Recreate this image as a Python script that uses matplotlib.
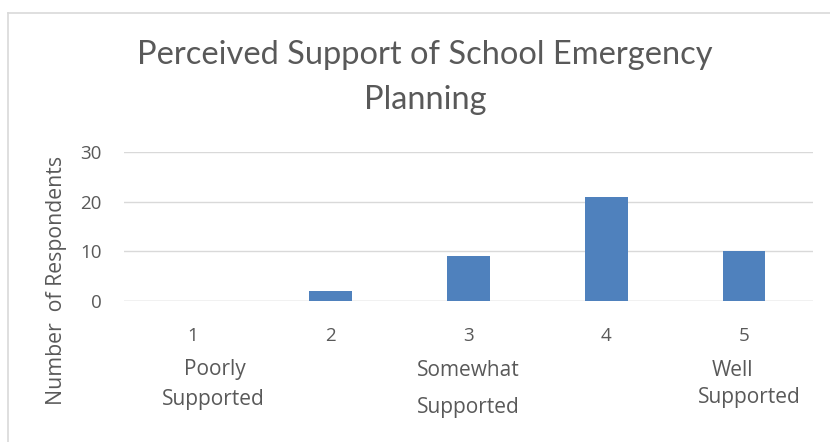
import matplotlib.pyplot as plt
from matplotlib.lines import Line2D

# Survey responses: how well supported staff feel by school emergency planning
ratings = ["1", "2", "3", "4", "5"]
respondents = [0, 2, 9, 21, 10]
scale_notes = {0: ("Poorly", "Supported"), 2: ("Somewhat", "Supported"), 4: ("Well", "Supported")}
y_ticks = [0, 10, 20, 30]

TEXT = "#595959"
BAR = "#4F81BD"
GRID = "#D9D9D9"

plt.rcParams["font.family"] = ["Open Sans", "DejaVu Sans"]

fig = plt.figure(figsize=(8.3, 4.42), dpi=100)
W, H = 830, 442

# chart frame (only the top and left edges fall inside the image)
fig.add_artist(Line2D([8 / W, 1], [1 - 12.5 / H] * 2, color=GRID, lw=1.2, transform=fig.transFigure))
fig.add_artist(Line2D([8 / W] * 2, [0, 1 - 12.5 / H], color=GRID, lw=1.2, transform=fig.transFigure))

ax = fig.add_axes([124 / W, 1 - 301 / H, (813 - 124) / W, (301 - 152) / H])
x = list(range(len(ratings)))
ax.bar(x, respondents, width=0.31, color=BAR, zorder=3)
ax.set_xlim(-0.5, len(ratings) - 0.5)
ax.set_ylim(0, 30)
ax.set_yticks(y_ticks)
ax.yaxis.grid(True, color=GRID, lw=1)
ax.set_axisbelow(True)
for side in ["top", "right", "left", "bottom"]:
    ax.spines[side].set_visible(False)
ax.axhline(0, color=GRID, lw=1, zorder=2)
ax.tick_params(axis="both", length=0, colors=TEXT, labelsize=13.5)
ax.tick_params(axis="y", pad=16)
ax.tick_params(axis="x", pad=19)
ax.set_xticks(x)
ax.set_xticklabels(ratings)
ax.set_ylabel("Number  of Respondents", color=TEXT, fontsize=15.3)
ax.yaxis.set_label_coords(-57 / (813 - 124), 0.14)

# descriptive anchors under the numeric ratings, offsets in pixels
note_pos = {0: ((22, 69), (20, 99)), 2: ((0, 69), (0, 106)), 4: ((-12, 69), (5, 96))}
for idx, words in scale_notes.items():
    for word, (dx, dy) in zip(words, note_pos[idx]):
        ax.annotate(word, xy=(idx, 0), xycoords="data",
                    xytext=(dx * 0.72, -dy * 0.72), textcoords="offset points",
                    ha="center", va="center", color=TEXT, fontsize=15,
                    annotation_clip=False)

title_font = ["Lato", "DejaVu Sans"]
fig.text(425 / W, 1 - 55 / H, "Perceived Support of School Emergency", ha="center", va="center",
         color=TEXT, fontsize=23.5, family=title_font)
fig.text(425 / W, 1 - 100 / H, "Planning", ha="center", va="center", color=TEXT,
         fontsize=23.5, family=title_font)

fig.savefig("out.png", dpi=100, facecolor="white")
